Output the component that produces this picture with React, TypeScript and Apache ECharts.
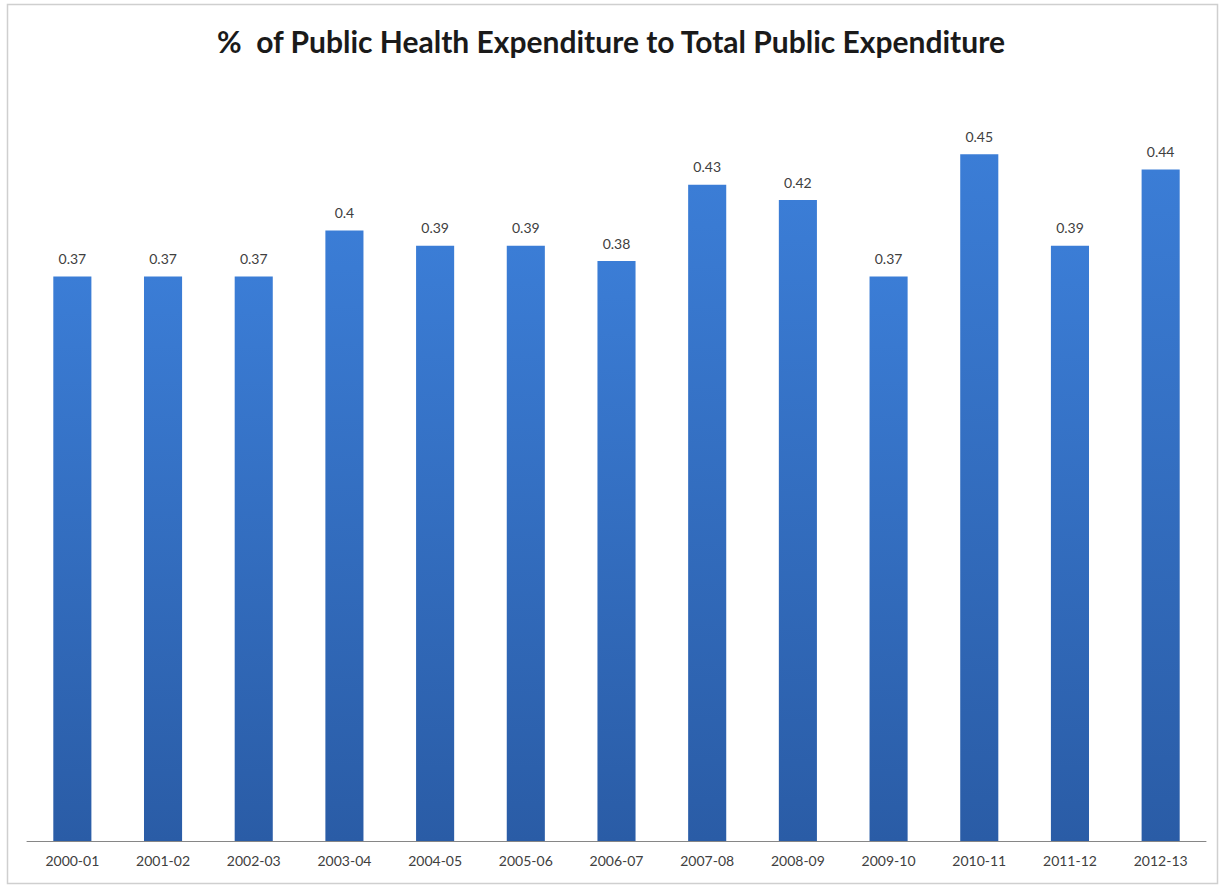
import React, { useEffect, useRef } from "react";
import * as echarts from "echarts";

const categories = ["2000-01", "2001-02", "2002-03", "2003-04", "2004-05", "2005-06", "2006-07", "2007-08", "2008-09", "2009-10", "2010-11", "2011-12", "2012-13"];
const values = [0.37, 0.37, 0.37, 0.4, 0.39, 0.39, 0.38, 0.43, 0.42, 0.37, 0.45, 0.39, 0.44];
const title = "%  of Public Health Expenditure to Total Public Expenditure";

export default function App() {
  const ref = useRef<HTMLDivElement>(null);
  useEffect(() => {
    document.body.style.margin = "0";
    const chart = echarts.init(ref.current!, null, { renderer: "svg" });
    chart.setOption({
      animation: false,
      backgroundColor: "#ffffff",
      title: {
        text: title,
        left: "center",
        top: 21,
        textStyle: { fontFamily: "Lato", fontWeight: "bold", fontSize: 30, color: "#1a1a1a" },
      },
      graphic: [
        {
          type: "rect",
          shape: { x: 7.5, y: 4.5, width: 1210, height: 879 },
          style: { fill: "none", stroke: "#cfcfcf", lineWidth: 1.5 },
          silent: true,
        },
      ],
      grid: { left: 27, right: 16, top: 78, bottom: 45, containLabel: false },
      xAxis: {
        type: "category",
        data: categories,
        axisLine: { lineStyle: { color: "#868686", width: 1 } },
        axisTick: { show: false },
        axisLabel: { color: "#404040", fontFamily: "Lato", fontSize: 14, margin: 12 },
      },
      yAxis: {
        type: "value",
        min: 0,
        max: 0.5,
        show: false,
        splitLine: { show: false },
      },
      series: [
        {
          type: "bar",
          data: values,
          barWidth: "42%",
          itemStyle: {
            color: new echarts.graphic.LinearGradient(0, 0, 0, 1, [
              { offset: 0, color: "#3b7dd6" },
              { offset: 1, color: "#2a5ca6" },
            ]),
          },
          label: {
            show: true,
            position: "top",
            distance: 11,
            color: "#404040",
            fontFamily: "Lato",
            fontSize: 14,
          },
        },
      ],
    });
    return () => chart.dispose();
  }, []);
  return <div ref={ref} style={{ position: "fixed", left: 0, top: 0, width: 1222, height: 886 }} />;
}
